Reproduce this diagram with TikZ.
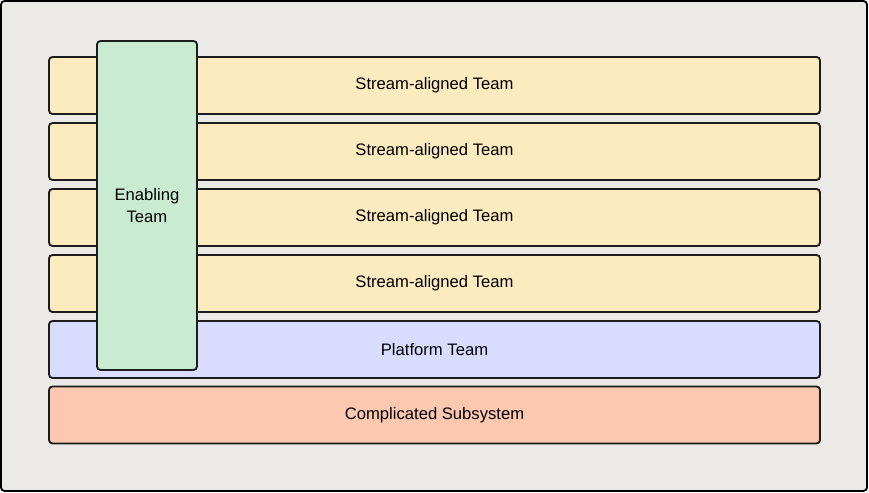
\documentclass[tikz,border=0pt]{standalone}
\usepackage{fontspec}
\setmainfont{Liberation Sans}
\usepackage{tikz}
\definecolor{bgcol}{HTML}{ECEAE6}
\definecolor{streamcol}{HTML}{FDEBC0}
\definecolor{enablecol}{HTML}{C8EBD2}
\definecolor{platformcol}{HTML}{D9DCFE}
\definecolor{subsyscol}{HTML}{FDC8B0}
\definecolor{edgecol}{HTML}{1C1C1C}
\tikzset{
  teambox/.style={draw=edgecol, line width=1.6pt, rounded corners=3pt,
    minimum width=23.13cm, minimum height=1.71cm, inner sep=0pt,
    font=\fontsize{14.2}{17}\selectfont},
  stream/.style={teambox, fill=streamcol},
}
\begin{document}
\begin{tikzpicture}
  \useasboundingbox (0,0) rectangle (26.07,-14.79);
  \draw[draw=black, line width=1.6pt, fill=bgcol, rounded corners=3pt] (0.03,-0.03) rectangle (26.01,-14.73);

  \node[stream] (sa1) at (13.035,-2.565) {Stream-aligned Team};
  \node[stream] (sa2) at (13.035,-4.545) {Stream-aligned Team};
  \node[stream] (sa3) at (13.035,-6.525) {Stream-aligned Team};
  \node[stream] (sa4) at (13.035,-8.505) {Stream-aligned Team};
  \node[teambox, fill=platformcol] (pt) at (13.035,-10.485) {Platform Team};
  \node[teambox, fill=subsyscol] (cs) at (13.035,-12.45) {Complicated Subsystem};

  \node[teambox, fill=enablecol, minimum width=3cm, minimum height=9.87cm,
    align=center, text depth=0pt] (en) at (4.41,-6.165) {Enabling\\[2pt]Team};
\end{tikzpicture}
\end{document}
